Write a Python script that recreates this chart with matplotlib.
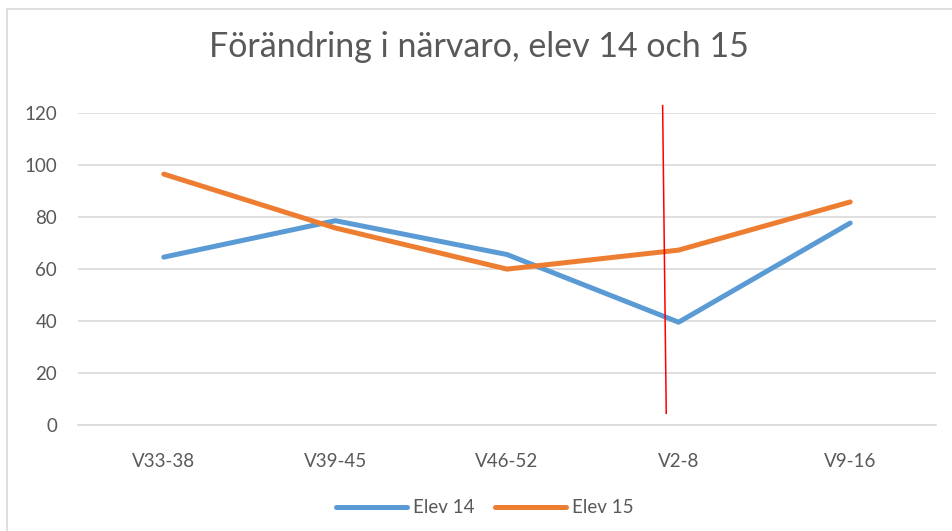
import matplotlib.pyplot as plt
from matplotlib.patches import Rectangle

plt.rcParams['font.family'] = ['Lato', 'DejaVu Sans']

weeks = ["V33-38", "V39-45", "V46-52", "V2-8", "V9-16"]
elev14 = [64.5, 78.5, 65.5, 39.5, 77.6]
elev15 = [96.4, 75.7, 59.9, 67.2, 85.7]

# red marker line (category index / value ends)
marker_x = [2.907, 2.928]
marker_y = [122.7, 4.5]

grey = "#595959"

fig = plt.figure(figsize=(9.52, 5.31), dpi=100)
ax = fig.add_axes([0.0819, 0.1996, 0.9013, 0.5882])

# chart border
fig.patches.append(Rectangle((0.0073, -0.05), 1.1, 1.033, transform=fig.transFigure,
                             fill=False, edgecolor="#d9d9d9", linewidth=1.2))

x = range(len(weeks))
ax.plot(x, elev14, color="#5b9bd5", linewidth=3.6, solid_capstyle="round",
        solid_joinstyle="round", label="Elev 14", zorder=3)
ax.plot(x, elev15, color="#ed7d31", linewidth=3.6, solid_capstyle="round",
        solid_joinstyle="round", label="Elev 15", zorder=3)
ax.plot(marker_x, marker_y, color="red", linewidth=1.1, clip_on=False, zorder=4)

ax.set_xlim(-0.5, len(weeks) - 0.5)
ax.set_ylim(0, 120)
ax.set_yticks(range(0, 121, 20))
ax.set_xticks(list(x))
ax.set_xticklabels(weeks)
ax.grid(axis="y", color="#d9d9d9", linewidth=1.2)
ax.set_axisbelow(True)
for s in ["top", "right", "left"]:
    ax.spines[s].set_visible(False)
ax.spines["bottom"].set_color("#d9d9d9")
ax.spines["bottom"].set_linewidth(1.2)
ax.tick_params(length=0, colors=grey, labelsize=13.5)
ax.tick_params(axis="x", pad=20)
ax.tick_params(axis="y", pad=15)

fig.text(0.503, 0.912, "Förändring i närvaro, elev 14 och 15", ha="center", va="center",
         fontsize=24.5, color=grey)

fig.legend(loc="center", bbox_to_anchor=(0.509, 0.044), ncol=2, frameon=False,
           fontsize=13.5, labelcolor=grey, handlelength=3.8, columnspacing=1.1,
           handletextpad=0.3)

fig.savefig("out.png", dpi=100)
